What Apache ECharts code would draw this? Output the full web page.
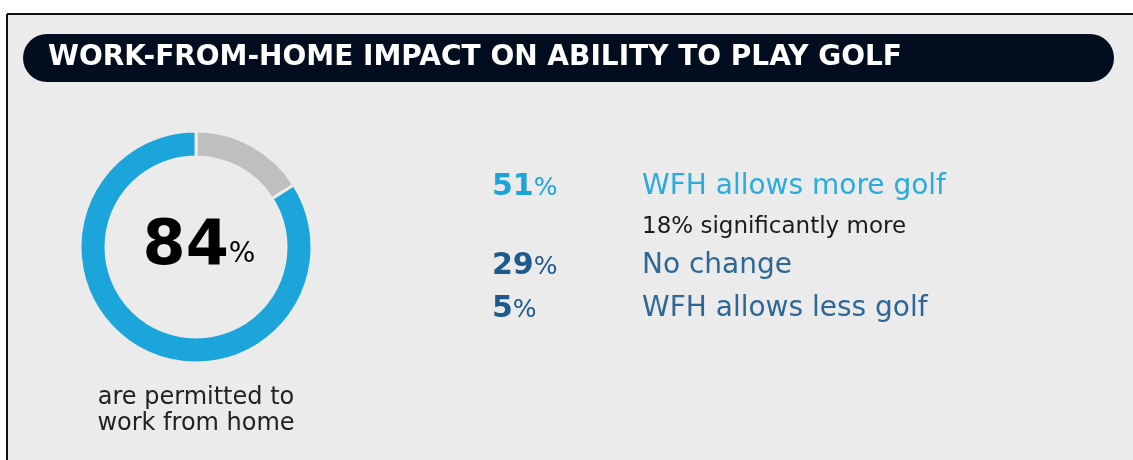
<!DOCTYPE html>
<html>
<head>
<meta charset="utf-8">
<script src="https://cdn.jsdelivr.net/npm/echarts@6/dist/echarts.min.js"></script>
<style>
  html, body { margin: 0; padding: 0; background: #ffffff; }
  #chart { width: 1133px; height: 460px; }
</style>
</head>
<body>
<div id="chart"></div>
<script>
// data
var titleText = 'WORK-FROM-HOME IMPACT ON ABILITY TO PLAY GOLF';
var donutNames = ['Not permitted', 'Permitted'];
var donutValues = [16, 84];
var donutColors = ['#bfbfbf', '#1ba5da'];
var captionLines = ['are permitted to', 'work from home'];

var rowValues = [51, 29, 5];
var rowLabels = ['WFH allows more golf', 'No change', 'WFH allows less golf'];
var rowColors = ['#1ba5da', '#1d5a8e', '#1d5a8e'];
var subNote = '18% significantly more';

var font = '"DejaVu Sans", sans-serif';
var bg = '#ebebeb';

var chart = echarts.init(document.getElementById('chart'));

// rows on the right
var rowY = [187, 266, 309];
var rowGraphics = [];
rowValues.forEach(function (v, i) {
  rowGraphics.push({
    type: 'text', x: 492, y: rowY[i],
    style: {
      text: '{n|' + v + '}{p|%}', verticalAlign: 'middle',
      rich: {
        n: { fontSize: 30, fontWeight: 'bold', fill: rowColors[i], fontFamily: font },
        p: { fontSize: 25, fontWeight: 'normal', fill: rowColors[i], fontFamily: font, padding: [3, 0, 0, 0] }
      }
    }
  });
  rowGraphics.push({
    type: 'text', x: 642, y: rowY[i],
    style: { text: rowLabels[i], verticalAlign: 'middle', fontSize: 28, fontWeight: 'normal', fill: rowColors[i], opacity: 0.92, fontFamily: font }
  });
});
rowGraphics.push({
  type: 'text', x: 642, y: 227,
  style: { text: subNote, verticalAlign: 'middle', fontSize: 23, fill: '#1a1a1a', fontFamily: font }
});

var option = {
  backgroundColor: '#ffffff',
  animation: false,
  graphic: [
    { type: 'rect', shape: { x: 7, y: 14, width: 1126, height: 446 }, style: { fill: bg }, z: -10 },
    { type: 'line', shape: { x1: 7, y1: 14, x2: 1133, y2: 14 }, style: { stroke: '#111', lineWidth: 2 }, z: -5 },
    { type: 'line', shape: { x1: 7, y1: 14, x2: 7, y2: 460 }, style: { stroke: '#111', lineWidth: 2 }, z: -5 },
    { type: 'rect', shape: { x: 23, y: 34, width: 1091, height: 48, r: 24 }, style: { fill: '#020e1f' } },
    {
      type: 'text', x: 48, y: 58,
      style: { text: titleText, verticalAlign: 'middle', fontSize: 28, fontWeight: 'bold', fill: '#ffffff', fontFamily: font }
    },
    {
      type: 'text', x: 199, y: 248, z: 10,
      style: {
        text: '{n|' + donutValues[1] + '}{p|%}',
        align: 'center', verticalAlign: 'middle',
        rich: {
          n: { fontSize: 62, fontWeight: 'bold', fill: '#000', fontFamily: font },
          p: { fontSize: 28, fontWeight: 'normal', fill: '#000', fontFamily: font, padding: [14, 0, 0, 0] }
        }
      }
    },
    {
      type: 'text', x: 196, y: 411,
      style: {
        text: captionLines.join('\n'), align: 'center', verticalAlign: 'middle', lineHeight: 26,
        fontSize: 24, fill: '#222', fontFamily: font
      }
    }
  ].concat(rowGraphics),
  series: [{
    type: 'pie',
    center: [196, 247],
    radius: [90, 116],
    startAngle: 90,
    clockwise: true,
    silent: true,
    label: { show: false },
    labelLine: { show: false },
    itemStyle: { borderColor: bg, borderWidth: 3 },
    data: donutValues.map(function (v, i) {
      return { name: donutNames[i], value: v, itemStyle: { color: donutColors[i] } };
    })
  }]
};
chart.setOption(option);
</script>
</body>
</html>
